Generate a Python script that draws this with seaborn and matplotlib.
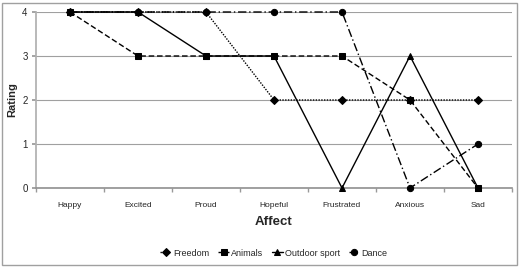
import matplotlib
matplotlib.use("Agg")
import matplotlib.pyplot as plt
import seaborn as sns
import pandas as pd
from matplotlib.patches import Rectangle

categories = ["Happy", "Excited", "Proud", "Hopeful", "Frustrated", "Anxious", "Sad"]
freedom = [4, 4, 4, 2, 2, 2, 2]
animals = [4, 3, 3, 3, 3, 2, 0]
outdoor_sport = [4, 4, 3, 3, 0, 3, 0]
dance = [4, 4, 4, 4, 4, 0, 1]
series_names = ["Freedom", "Animals", "Outdoor sport", "Dance"]
y_ticks = [0, 1, 2, 3, 4]

sns.set_theme(style="white")
plt.rcParams['font.family'] = ['Liberation Sans', 'DejaVu Sans']

fig = plt.figure(figsize=(5.2, 2.69), dpi=100)
ax = fig.add_axes([36/520, 1-188/269, (512-36)/520, (188-12)/269])

styles = {
    "Freedom": dict(ls=(0, (1, 1)), marker="D", ms=4),
    "Animals": dict(ls=(0, (4, 2)), marker="s", ms=5),
    "Outdoor sport": dict(ls="-", marker="^", ms=5),
    "Dance": dict(ls=(0, (6, 2, 1, 2)), marker="o", ms=4.5),
}
values = {"Freedom": freedom, "Animals": animals, "Outdoor sport": outdoor_sport, "Dance": dance}

x = list(range(len(categories)))
for name in series_names:
    df = pd.DataFrame({"x": x, "y": values[name]})
    st = styles[name]
    sns.lineplot(data=df, x="x", y="y", ax=ax, color="black", lw=1.0,
                 linestyle=st["ls"], marker=st["marker"], markersize=st["ms"],
                 markeredgecolor="black", markerfacecolor="black", label=name,
                 clip_on=False, zorder=3)

ax.set_xlim(-0.5, len(categories) - 0.5)
ax.set_ylim(0, 4)
ax.set_yticks(y_ticks)
ax.set_yticklabels([str(v) for v in y_ticks], fontsize=7)
ax.set_xticks(x)
ax.set_xticklabels(categories, fontsize=6)
ax.set_xticks([i + 0.5 for i in range(-1, len(categories))], minor=True)
ax.tick_params(axis="x", which="major", length=0, pad=10)
ax.tick_params(axis="x", which="minor", length=3, color="#999999", direction="out", bottom=True)
ax.tick_params(axis="y", length=3, color="#999999", direction="out", left=True, pad=3)
ax.yaxis.grid(True, color="#a0a0a0", lw=0.8)
ax.set_axisbelow(True)
for s in ["top", "right"]:
    ax.spines[s].set_visible(False)
ax.spines["left"].set_color("#b0b0b0")
ax.spines["bottom"].set_color("#909090")
ax.spines["bottom"].set_linewidth(1.2)

ax.set_xlabel("Affect", fontsize=9.5, fontweight="bold")
ax.xaxis.set_label_coords(0.5, -0.16)
ax.set_ylabel("Rating", fontsize=8, fontweight="bold")
ax.yaxis.set_label_coords(-0.04, 0.5)

ax.legend(loc="center", bbox_to_anchor=(0.5, -0.37), ncol=4, frameon=False,
          fontsize=6.5, handlelength=1.2, handletextpad=0.2, columnspacing=1.0,
          borderaxespad=0)

fig.patches.append(Rectangle((2/520, 4/269), 515/520, 262/269, transform=fig.transFigure,
                             fill=False, edgecolor="#a0a0a0", lw=1))

fig.savefig("out.png", dpi=100)
